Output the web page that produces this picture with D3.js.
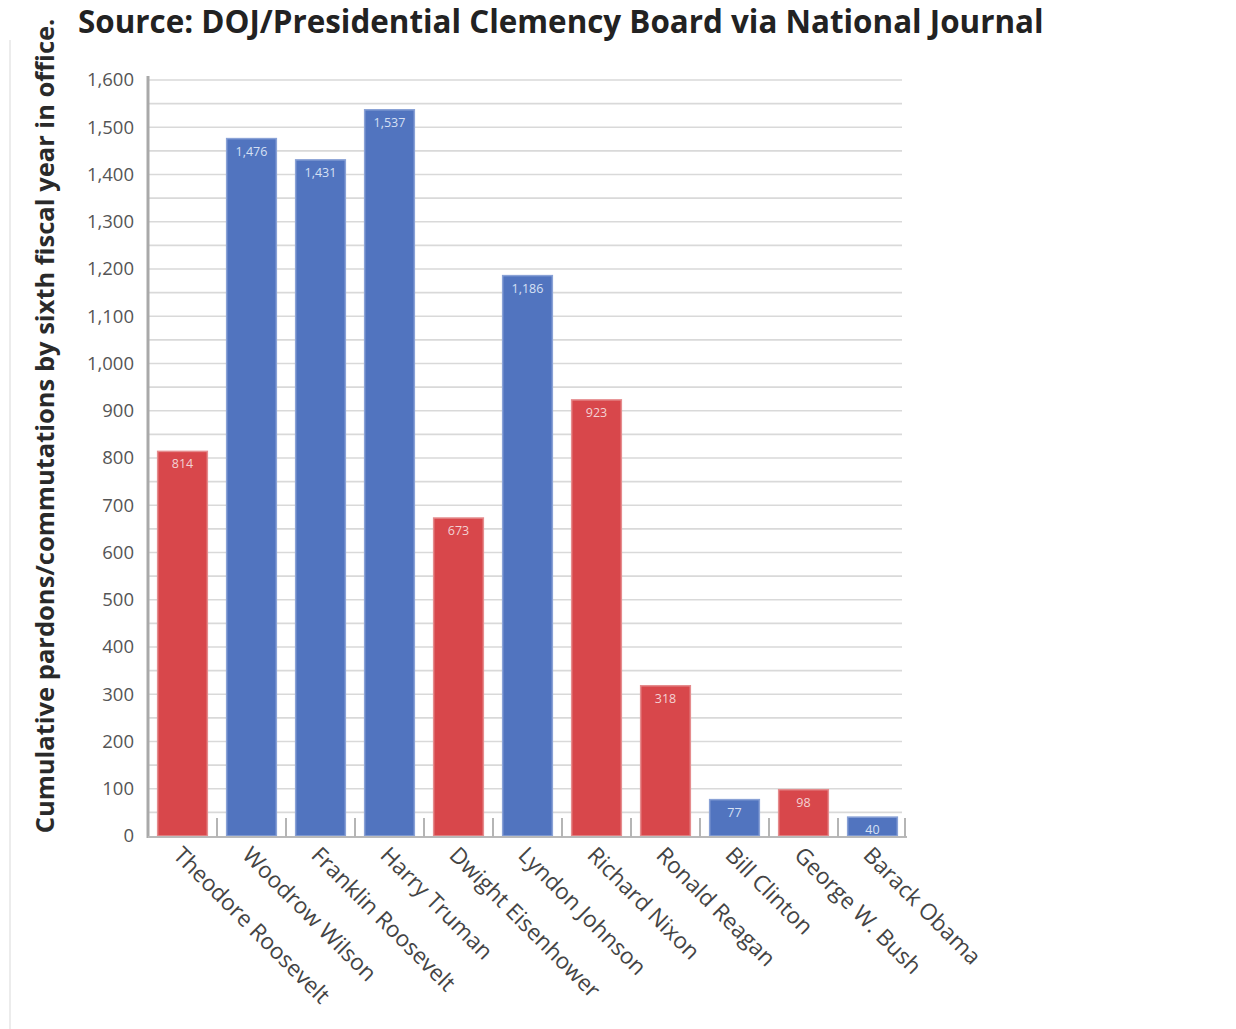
<!DOCTYPE html>
<html>
<head>
<meta charset="utf-8">
<script src="https://cdn.jsdelivr.net/npm/d3@7"></script>
<style>
  html, body { margin: 0; padding: 0; background: #fff; }
  svg { display: block; font-family: "Open Sans", "Noto Sans", sans-serif; }
</style>
</head>
<body>
<svg id="chart" width="1236" height="1029"></svg>
<script>
// Presidents in order, with cumulative clemency counts by the sixth fiscal year in office
const presidents = ["Theodore Roosevelt", "Woodrow Wilson", "Franklin Roosevelt", "Harry Truman",
  "Dwight Eisenhower", "Lyndon Johnson", "Richard Nixon", "Ronald Reagan", "Bill Clinton",
  "George W. Bush", "Barack Obama"];
const clemencies = [814, 1476, 1431, 1537, 673, 1186, 923, 318, 77, 98, 40];
const parties = ["R", "D", "D", "D", "R", "D", "R", "R", "D", "R", "D"];
const yTicks = [0, 100, 200, 300, 400, 500, 600, 700, 800, 900, 1000, 1100, 1200, 1300, 1400, 1500, 1600];
const titleText = "Source: DOJ/Presidential Clemency Board via National Journal";
const yTitleText = "Cumulative pardons/commutations by sixth fiscal year in office.";

const svg = d3.select("#chart");
const plotLeft = 148, plotRight = 907, plotTop = 80, plotBottom = 836;

const x = d3.scaleBand().domain(presidents).range([plotLeft, plotRight]).paddingInner(0.28).paddingOuter(0.14);
const y = d3.scaleLinear().domain([0, 1600]).range([plotBottom, plotTop]);
const fill = d3.scaleOrdinal().domain(["R", "D"]).range(["#d8474b", "#5174bf"]);
const edge = d3.scaleOrdinal().domain(["R", "D"]).range(["#e58c8e", "#8aa2d6"]);
const labelFill = d3.scaleOrdinal().domain(["R", "D"]).range(["#f3d2d3", "#d6e0f4"]);

// scale a text element's font size so it spans a given width
function fitWidth(sel, width) {
  sel.each(function () {
    const cur = parseFloat(this.getAttribute("font-size"));
    const w = this.getComputedTextLength();
    if (w > 0) this.setAttribute("font-size", (cur * width / w).toFixed(2));
  });
}

// faint frame line on the left edge
svg.append("line").attr("x1", 10).attr("x2", 10).attr("y1", 40).attr("y2", 1029)
  .attr("stroke", "#ececec").attr("stroke-width", 2);

// horizontal gridlines every 50
const gridVals = d3.range(50, 1601, 50);
svg.append("g").selectAll("line").data(gridVals).join("line")
  .attr("x1", plotLeft).attr("x2", 902)
  .attr("y1", d => y(d)).attr("y2", d => y(d))
  .attr("stroke", "#d9d9d9").attr("stroke-width", 1.6);

// bars
svg.append("g").selectAll("rect").data(presidents).join("rect")
  .attr("x", d => x(d))
  .attr("y", (d, i) => y(clemencies[i]))
  .attr("width", x.bandwidth())
  .attr("height", (d, i) => y(0) - y(clemencies[i]))
  .attr("fill", (d, i) => fill(parties[i]))
  .attr("stroke", (d, i) => edge(parties[i]))
  .attr("stroke-width", 1.5);

// value labels at the top of each bar
svg.append("g").selectAll("text").data(presidents).join("text")
  .attr("x", d => x(d) + x.bandwidth() / 2)
  .attr("y", (d, i) => y(clemencies[i]) + 17)
  .attr("text-anchor", "middle")
  .attr("font-size", 12.5)
  .attr("fill", (d, i) => labelFill(parties[i]))
  .text((d, i) => d3.format(",")(clemencies[i]));

// y axis
const yAxis = svg.append("g").attr("transform", `translate(${plotLeft},0)`)
  .call(d3.axisLeft(y).tickValues(yTicks).tickFormat(d3.format(",")).tickSize(0).tickPadding(14));
yAxis.select(".domain").remove();
yAxis.selectAll("text").attr("font-size", 18.5).attr("fill", "#555")
  .attr("font-family", "'Open Sans', sans-serif");
svg.append("line").attr("x1", plotLeft).attr("x2", plotLeft).attr("y1", 76).attr("y2", plotBottom + 2)
  .attr("stroke", "#a9a9a9").attr("stroke-width", 3);

// x axis baseline with category dividers
svg.append("line").attr("x1", plotLeft).attr("x2", plotRight).attr("y1", plotBottom + 1).attr("y2", plotBottom + 1)
  .attr("stroke", "#b9b9b9").attr("stroke-width", 2);
const dividers = presidents.slice(1).map(p => x(p) - x.step() * x.paddingInner() / 2).concat([plotRight - 2]);
svg.append("g").selectAll("line").data(dividers).join("line")
  .attr("x1", d => d).attr("x2", d => d).attr("y1", plotBottom - 18).attr("y2", plotBottom + 1)
  .attr("stroke", "#b5b5b5").attr("stroke-width", 2);

// rotated category labels
const xl = svg.append("g").selectAll("text").data(presidents).join("text")
  .attr("transform", d => `translate(${x(d) + x.bandwidth() / 2 - 5},${plotBottom + 15}) rotate(45)`)
  .attr("font-size", 18)
  .attr("fill", "#444")
  .attr("dy", "0.35em")
  .text(d => d);
// size all labels by the longest one
const longest = xl.filter(d => d === "Theodore Roosevelt");
const f0 = 18, w0 = longest.node().getComputedTextLength();
xl.attr("font-size", (f0 * 210 / w0).toFixed(2));

// y axis title
const yt = svg.append("text")
  .attr("transform", `translate(54,426) rotate(-90)`)
  .attr("text-anchor", "middle")
  .attr("font-size", 22).attr("font-weight", 700).attr("fill", "#2a2a2a")
  .text(yTitleText);
fitWidth(yt, 815);

// chart title
const tt = svg.append("text")
  .attr("x", 78).attr("y", 33)
  .attr("font-size", 27).attr("font-weight", 700).attr("fill", "#222")
  .text(titleText);
fitWidth(tt, 966);
</script>
</body>
</html>
